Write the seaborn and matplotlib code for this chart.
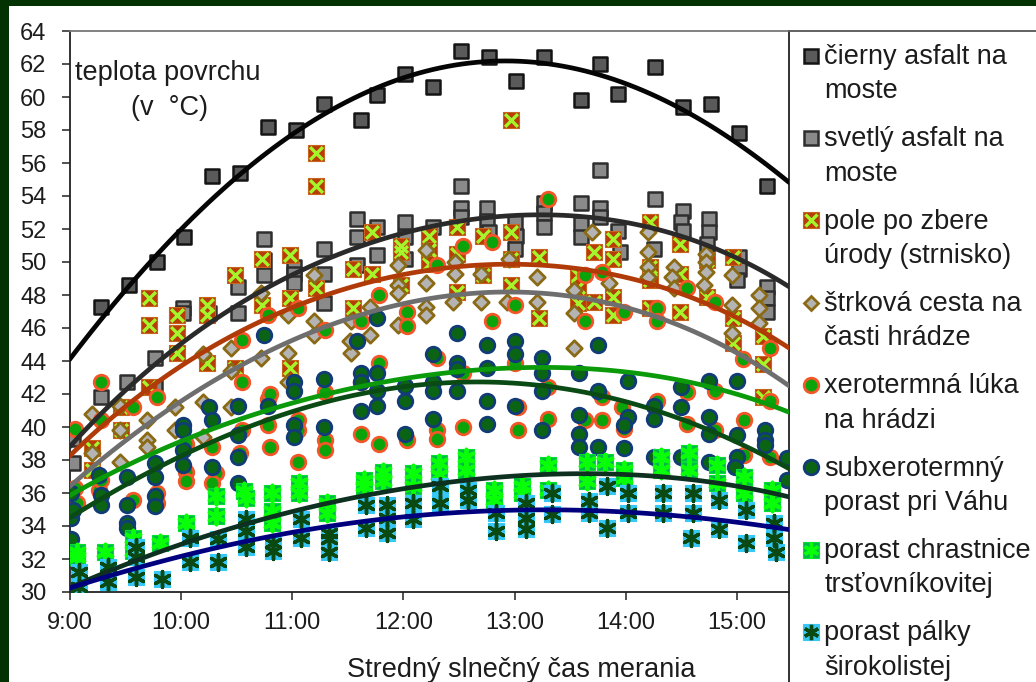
import matplotlib
matplotlib.use('Agg')
import matplotlib.pyplot as plt
from matplotlib.lines import Line2D
from matplotlib.patches import Rectangle
from matplotlib.legend_handler import HandlerTuple
import numpy as np
import seaborn as sns

# minutes after 9:00 and surface temperature
black_t = [17, 32, 47, 62, 77, 92, 107, 122, 137, 157, 166, 181, 196, 211, 226, 241, 256, 276, 286, 296, 316, 331, 346, 361, 376]
black_v = [47.3, 48.6, 50.0, 51.5, 55.2, 55.4, 58.2, 58.0, 59.6, 58.6, 60.1, 61.4, 60.6, 62.8, 62.4, 61.0, 62.4, 59.8, 62.0, 60.2, 61.8, 59.4, 59.6, 57.8, 54.6]

light_t = [2, 2, 17, 31, 46, 46, 61, 61, 75, 91, 91, 105, 105, 105, 121, 121, 121, 137, 137, 137, 155, 155, 155, 166, 166,
           181, 181, 181, 196, 211, 211, 211, 225, 225, 226, 240, 241, 240, 256, 256, 256, 276, 276, 276, 286, 286, 286,
           296, 297, 316, 315, 331, 330, 331, 345, 345, 344, 361, 361, 360, 376, 376, 376]
light_v = [37.8, 39.3, 41.8, 42.7, 44.2, 42.4, 47.2, 46.9, 46.9, 48.5, 46.9, 51.4, 50.1, 49.2, 49.7, 49.3, 48.7, 50.8, 49.3, 47.5,
           52.6, 51.5, 49.8, 52.1, 50.4, 52.4, 51.5, 50.2, 52.1, 54.6, 53.3, 52.7, 53.3, 52.5, 51.8, 52.4, 51.6, 50.8,
           53.6, 53.0, 52.1, 53.6, 52.3, 51.5, 55.6, 53.3, 52.7, 51.9, 50.6, 53.8, 50.8, 53.1, 52.4, 51.9, 52.6, 51.8, 51.1,
           50.3, 49.6, 48.9, 48.5, 47.8, 47.0]

stub_t = [12, 12, 28, 28, 43, 43, 43, 58, 58, 58, 74, 74, 74, 89, 89, 104, 104, 119, 119, 119, 133, 133, 133, 153, 153, 163, 163,
          179, 179, 179, 194, 194, 194, 209, 209, 209, 223, 223, 238, 238, 238, 238, 253, 253, 274, 274, 274, 283, 283,
          293, 293, 293, 293, 313, 313, 313, 313, 329, 329, 329, 344, 344, 358, 358, 358, 374, 374, 374]
stub_v = [38.7, 37.4, 39.8, 41.2, 47.8, 46.2, 42.4, 46.8, 45.7, 44.5, 47.4, 46.8, 43.9, 49.2, 43.6, 50.2, 47.4, 50.4, 47.8, 43.6,
          56.6, 54.6, 48.4, 49.6, 47.2, 51.8, 49.3, 51.0, 50.6, 48.6, 51.6, 50.7, 49.9, 52.1, 50.5, 48.2, 51.6, 49.2,
          51.8, 58.6, 50.2, 48.6, 50.3, 46.6, 49.2, 48.5, 47.5, 50.6, 47.6, 51.4, 50.2, 47.9, 46.8, 52.4, 49.7, 48.9, 47.2,
          51.1, 49.3, 47.0, 50.1, 47.9, 50.3, 46.6, 45.1, 45.5, 43.8, 41.8]

gravel_t = [12, 12, 27, 27, 27, 42, 42, 42, 57, 57, 72, 72, 72, 87, 87, 87, 103, 103, 118, 118, 118, 132, 132, 132, 152, 152, 151, 162, 162,
            177, 177, 177, 177, 192, 192, 192, 192, 208, 208, 207, 222, 222, 237, 236, 252, 252, 272, 272, 272, 282, 291,
            312, 312, 312, 312, 326, 325, 326, 343, 343, 343, 342, 357, 357, 357, 372, 372, 372]
gravel_v = [38.4, 40.8, 39.8, 37.9, 41.3, 40.4, 39.2, 38.8, 41.2, 39.8, 41.5, 39.4, 44.4, 41.2, 44.8, 43.4, 44.2, 48.1, 44.5, 42.7, 46.8, 45.6, 49.2, 46.4,
            44.5, 46.4, 45.2, 45.6, 47.3, 49.8, 48.6, 48.1, 46.2, 50.7, 48.7, 47.3, 46.8, 50.0, 49.3, 47.6, 49.3, 47.6, 50.2, 47.6, 49.1, 47.6,
            48.3, 46.9, 44.8, 51.8, 48.7, 51.8, 50.6, 49.7, 49.1, 49.7, 49.1, 48.4, 50.5, 50.0, 49.4, 48.6, 49.2, 47.4, 45.7, 48.0, 47.2, 46.3]

xero_t = [3, 3, 4, 16, 17, 17, 17, 34, 34, 47, 47, 47, 63, 63, 63, 77, 79, 77, 93, 93, 93, 92, 107, 107, 107, 108, 108, 123, 123, 123, 123,
          138, 138, 138, 138, 157, 157, 157, 167, 167, 167, 182, 182, 182, 198, 198, 198, 198, 212, 212, 212, 228, 228, 240, 242, 240, 242,
          258, 258, 258, 278, 278, 278, 287, 287, 287, 299, 298, 299, 317, 317, 317, 333, 333, 333, 348, 348, 348, 363, 364, 364, 378, 378, 378]
xero_v = [39.9, 36.3, 35.4, 36.2, 42.7, 40.4, 36.8, 41.2, 35.6, 41.8, 36.0, 35.4, 39.0, 37.3, 36.7, 38.8, 37.2, 36.6, 45.3, 42.7, 39.8, 38.4,
          46.8, 41.7, 40.1, 38.8, 42.0, 47.2, 40.4, 39.8, 37.9, 45.9, 42.1, 39.2, 38.6, 46.4, 42.7, 39.6, 48.0, 43.9, 39.0,
          47.0, 46.1, 39.2, 49.8, 44.2, 39.8, 39.3, 51.0, 43.3, 40.0, 51.2, 46.4, 47.4, 41.2, 43.9, 39.8, 53.8, 42.4, 40.5,
          46.4, 49.2, 40.4, 49.4, 41.8, 40.4, 47.0, 41.2, 39.9, 47.2, 46.4, 41.6, 48.4, 42.1, 40.2, 47.6, 42.2, 39.8,
          44.1, 40.4, 38.3, 44.8, 41.6, 38.2]

subx_t = [1, 1, 2, 1, 16, 17, 17, 31, 31, 31, 31, 46, 46, 46, 46, 61, 61, 61, 61, 75, 77, 77, 91, 91, 91, 91, 105, 107, 121, 121, 121, 121,
          137, 137, 155, 157, 157, 157, 166, 166, 166, 166, 181, 181, 181, 196, 196, 196, 196, 209, 209, 209, 209, 225, 225, 225, 225,
          240, 240, 240, 255, 255, 255, 255, 275, 275, 275, 275, 285, 285, 285, 301, 301, 299, 299, 315, 315, 315, 330, 330, 330,
          345, 345, 345, 345, 360, 360, 360, 359, 375, 375, 375, 387, 387]
subx_v = [33.2, 34.5, 35.0, 36.0, 37.1, 35.9, 35.3, 37.0, 35.3, 34.2, 33.9, 37.8, 37.0, 35.8, 35.2, 40.1, 39.8, 38.6, 37.7, 41.2, 40.4, 37.6,
          41.3, 39.5, 38.2, 36.6, 45.6, 41.3, 42.7, 42.2, 40.1, 39.4, 42.9, 40.0, 45.2, 43.3, 42.7, 41.0, 46.6, 43.3, 42.2, 41.3,
          42.5, 41.6, 39.6, 44.4, 42.7, 42.2, 40.5, 45.7, 43.9, 43.5, 42.2, 45.0, 43.6, 41.6, 40.2, 45.2, 44.4, 41.3,
          44.2, 43.3, 42.2, 39.8, 43.3, 40.7, 39.6, 38.8, 45.0, 42.2, 38.8, 42.8, 40.6, 40.1, 38.7, 41.3, 40.5, 38.2, 42.4, 41.2, 38.2,
          42.8, 40.6, 39.6, 37.9, 42.8, 39.5, 38.2, 37.6, 39.8, 39.2, 38.9, 38.1, 36.8]

reed_t = [4, 4, 19, 34, 34, 49, 63, 79, 79, 94, 95, 109, 109, 109, 124, 124, 139, 139, 159, 159, 169, 169, 185, 185, 199, 199, 214, 214,
          229, 229, 244, 244, 258, 258, 279, 279, 289, 299, 299, 319, 319, 334, 334, 349, 349, 364, 364, 379, 379]
reed_v = [32.4, 32.1, 32.4, 33.3, 32.5, 33.0, 34.2, 35.8, 34.6, 36.1, 35.7, 36.0, 34.9, 34.2, 36.6, 36.0, 35.4, 34.8, 36.8, 36.4, 37.3, 36.7,
          37.2, 36.4, 37.8, 37.1, 38.2, 37.4, 36.2, 35.6, 36.4, 36.0, 37.7, 36.2, 37.9, 36.7, 37.9, 37.4, 36.9, 38.2, 37.4, 38.4, 37.4,
          37.7, 36.6, 37.0, 36.0, 36.2, 35.4]

cattail_t = [5, 5, 21, 21, 36, 36, 36, 50, 65, 65, 80, 80, 95, 95, 95, 110, 110, 125, 125, 140, 140, 140, 160, 160, 171, 171, 171, 185, 185,
             200, 200, 215, 215, 230, 230, 246, 246, 246, 260, 260, 280, 280, 290, 290, 301, 301, 320, 320, 336, 336, 335, 350, 350, 365, 365, 380, 380, 381]
cattail_v = [31.2, 30.3, 31.5, 30.6, 32.7, 32.1, 30.9, 30.8, 33.3, 31.8, 33.2, 31.8, 34.4, 33.7, 32.7, 33.0, 32.5, 34.4, 33.3, 33.6, 33.2, 32.4,
             35.3, 33.9, 35.3, 34.5, 33.6, 35.4, 34.4, 36.4, 35.4, 36.2, 35.6, 34.8, 33.7, 35.4, 34.5, 33.8, 36.0, 34.7, 35.5, 34.8,
             36.4, 33.9, 36.0, 34.8, 36.0, 34.8, 36.0, 34.8, 33.3, 35.6, 33.8, 35.0, 33.0, 34.2, 33.3, 32.4]

# trend lines, read every half hour
trend_t = [0, 30, 60, 90, 120, 150, 180, 210, 240, 270, 300, 330, 360, 388]
black_trend = [44.2, 48.1, 51.9, 55.1, 57.9, 59.8, 61.2, 61.9, 62.1, 61.7, 60.8, 59.3, 57.4, 54.7]
light_trend = [38.7, 42.3, 45.2, 47.2, 49.2, 50.6, 51.7, 52.5, 52.9, 52.9, 52.4, 51.5, 50.1, 48.6]
stub_trend = [38.2, 41.3, 43.7, 45.6, 47.2, 48.5, 49.2, 49.7, 49.9, 49.7, 49.0, 48.1, 46.6, 44.8]
gravel_trend = [36.3, 39.3, 41.6, 43.5, 45.1, 46.6, 47.5, 48.1, 48.2, 47.9, 47.2, 46.1, 44.5, 42.5]
xero_trend = [35.8, 37.7, 39.1, 40.4, 41.4, 42.3, 42.9, 43.4, 43.6, 43.6, 43.3, 42.8, 42.0, 40.9]
subx_trend = [34.5, 36.5, 38.2, 39.6, 41.0, 41.9, 42.5, 42.7, 42.6, 42.2, 41.5, 40.5, 39.2, 37.4]
reed_trend = [30.2, 31.7, 33.0, 33.9, 34.8, 35.6, 36.2, 36.8, 37.1, 37.2, 37.1, 36.8, 36.4, 35.8]
cattail_trend = [30.2, 31.3, 32.2, 32.9, 33.6, 34.1, 34.6, 34.8, 35.0, 35.0, 34.8, 34.6, 34.2, 33.8]

labels = ['čierny asfalt na\nmoste', 'svetlý asfalt na\nmoste', 'pole po zbere\núrody (strnisko)',
          'štrková cesta na\nčasti hrádze', 'xerotermná lúka\nna hrádzi', 'subxerotermný\nporast pri Váhu',
          'porast chrastnice\ntrsťovníkovitej', 'porast pálky\nširokolistej']
hour_ticks = [9, 10, 11, 12, 13, 14, 15]
temp_ticks = list(range(30, 66, 2))

sns.set_theme(style='white')
plt.rcParams['font.family'] = ['Liberation Sans', 'DejaVu Sans']
text_col = '#1c1c1c'

fig = plt.figure(figsize=(10.36, 6.82), dpi=100, facecolor='white')
ax = fig.add_axes([69.5 / 1036, 90 / 682, 719.5 / 1036, 561 / 682])


def hours(minutes):
    return 9 + np.array(minutes) / 60


# Step 1: the squares, diamonds and circles
SQ = 105
sns.scatterplot(x=hours(black_t), y=black_v, marker='s', s=SQ, color='#5a5a5a', edgecolor='#141414', linewidth=1.8, zorder=3, ax=ax)
sns.scatterplot(x=hours(light_t), y=light_v, marker='s', s=SQ, color='#8a8a8a', edgecolor='#2e2e2e', linewidth=1.8, zorder=3.1, ax=ax)
sns.scatterplot(x=hours(stub_t), y=stub_v, marker='s', s=125, color='#b83c08', edgecolor='#c8641e', linewidth=0.8, zorder=3.2, ax=ax)
sns.scatterplot(x=hours(stub_t), y=stub_v, marker='x', s=85, color='#a4f52a', linewidth=2.4, zorder=3.3, ax=ax)
sns.scatterplot(x=hours(gravel_t), y=gravel_v, marker='D', s=62, color='#b4b4b4', edgecolor='#8a6a14', linewidth=2.0, zorder=3.4, ax=ax)
sns.scatterplot(x=hours(xero_t), y=xero_v, marker='o', s=110, color='#0aa30a', edgecolor='#f4562a', linewidth=2.0, zorder=3.5, ax=ax)
sns.scatterplot(x=hours(subx_t), y=subx_v, marker='o', s=110, color='#0b6414', edgecolor='#123c78', linewidth=2.0, zorder=3.6, ax=ax)
sns.scatterplot(x=hours(reed_t), y=reed_v, marker='s', s=140, color='#00b84a', edgecolor='#00e030', linewidth=0.8, zorder=3.7, ax=ax)
sns.scatterplot(x=hours(reed_t), y=reed_v, marker=(6, 2, 0), s=130, color='#08ff08', linewidth=2.8, zorder=3.8, ax=ax)
sns.scatterplot(x=hours(cattail_t), y=cattail_v, marker='s', s=140, color='#38c8f8', edgecolor='#38c8f8', linewidth=0.8, zorder=3.9, ax=ax)
sns.scatterplot(x=hours(cattail_t), y=cattail_v, marker=(6, 2, 0), s=130, color='#0a4a12', linewidth=2.5, zorder=4, ax=ax)

# Step 2: trend lines on top of the points
trends = [(black_trend, '#050505'), (light_trend, '#2a2a2a'), (stub_trend, '#b03a08'), (gravel_trend, '#6e6e6e'),
          (xero_trend, '#0a9a0a'), (subx_trend, '#0a4a14'), (reed_trend, '#0e3020'), (cattail_trend, '#00007e')]
for vals, col in trends:
    sns.regplot(x=hours(trend_t), y=np.array(vals), order=4, ci=None, scatter=False, ax=ax,
                line_kws={'color': col, 'linewidth': 3.4, 'zorder': 5})

# Step 3: axes
ax.set_xlim(9, 9 + 388 / 60)
ax.set_ylim(30, 64)
ax.set_xticks(hour_ticks)
ax.set_xticklabels([f'{h}:00' for h in hour_ticks])
ax.set_yticks(temp_ticks)
ax.tick_params(axis='x', length=5.5, width=1.1, color='#222222', labelsize=17, labelcolor=text_col, pad=9, bottom=True)
ax.tick_params(axis='y', length=5.5, width=1.1, color='#222222', labelsize=17, labelcolor=text_col, pad=11, left=True)
for side in ax.spines:
    ax.spines[side].set_color('#222222')
    ax.spines[side].set_linewidth(1.3)
ax.spines['top'].set_color('#777777')
ax.grid(False)
ax.set_xlabel('Stredný slnečný čas merania', fontsize=19.5, color=text_col)
ax.xaxis.set_label_coords((521 - 69.5) / 719.5, -0.139, transform=ax.transAxes)
ax.xaxis.label.set_verticalalignment('center')

ax.text(75, 682 - 73, 'teplota povrchu', transform=None, fontsize=19.5, color=text_col, va='center', ha='left')
ax.text(131, 682 - 108, '(v  °C)', transform=None, fontsize=19.5, color=text_col, va='center', ha='left')

# Step 4: legend on the right, markers lined up with the first text line
handles = [
    Line2D([], [], ls='', marker='s', ms=10, mfc='#5a5a5a', mec='#141414', mew=1.8),
    Line2D([], [], ls='', marker='s', ms=10, mfc='#8a8a8a', mec='#2e2e2e', mew=1.8),
    (Line2D([], [], ls='', marker='s', ms=11, mfc='#b83c08', mec='#c8641e', mew=0.8),
     Line2D([], [], ls='', marker='x', ms=9, mec='#a4f52a', mew=2.4)),
    Line2D([], [], ls='', marker='D', ms=7.5, mfc='#b4b4b4', mec='#8a6a14', mew=2.0),
    Line2D([], [], ls='', marker='o', ms=10.5, mfc='#0aa30a', mec='#f4562a', mew=2.0),
    Line2D([], [], ls='', marker='o', ms=10.5, mfc='#0b6414', mec='#123c78', mew=2.0),
    (Line2D([], [], ls='', marker='s', ms=11.5, mfc='#00b84a', mec='#00e030', mew=0.8),
     Line2D([], [], ls='', marker=(6, 2, 0), ms=11, mec='#08ff08', mew=2.4)),
    (Line2D([], [], ls='', marker='s', ms=11.5, mfc='#38c8f8', mec='#38c8f8', mew=0.8),
     Line2D([], [], ls='', marker=(6, 2, 0), ms=11, mec='#0a4a12', mew=2.4)),
]
leg = fig.legend(handles, labels, loc='upper left', bbox_to_anchor=(799 / 1036, 1 - 44 / 682), frameon=False, fontsize=19.5,
                 labelcolor=text_col, handler_map={tuple: HandlerTuple(ndivide=1, pad=0)}, numpoints=1, handlelength=0.85,
                 handletextpad=0.09, labelspacing=0.81, borderpad=0, borderaxespad=0)
for txt in leg.get_texts():
    txt.set_linespacing(1.42)
for line in leg.findobj(Line2D):
    line.set_ydata(np.asarray(line.get_ydata()) + 13.8)

# Step 5: slide frame and panel lines
fig.add_artist(Rectangle((0, 0), 8.5 / 1036, 1, transform=fig.transFigure, fc='#023202', ec='none', zorder=10))
fig.add_artist(Rectangle((0, 1 - 5.5 / 682), 1, 6 / 682, transform=fig.transFigure, fc='#023202', ec='none', zorder=10))
fig.add_artist(Line2D([789 / 1036, 1], [651 / 682, 651 / 682], color='#555555', lw=1.3))
fig.add_artist(Line2D([789 / 1036, 789 / 1036], [0, 90 / 682], color='#222222', lw=1.3))

fig.savefig('out.png', dpi=100)
